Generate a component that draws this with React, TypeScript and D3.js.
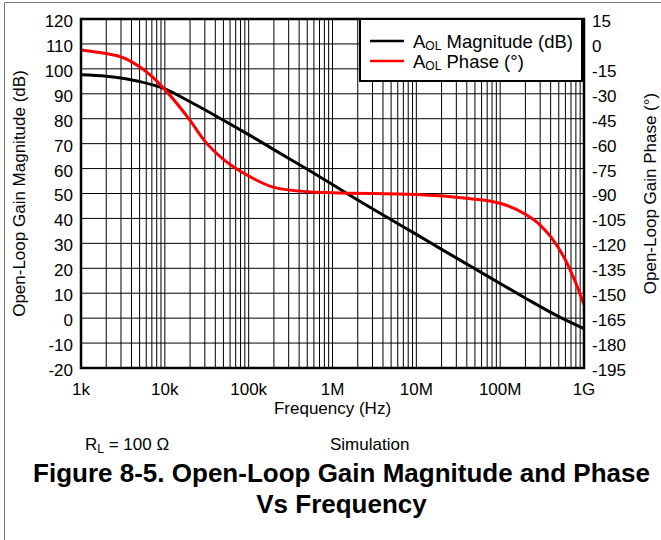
import React from "react";
import * as d3 from "d3";

// magnitude curve (dB)
const magFreq = [1e3, 2e3, 5e3, 1e4, 2e4, 5e4, 1e5, 2e5, 5e5, 1e6, 2e6, 5e6, 1e7, 2e7, 5e7, 1e8, 2e8, 5e8, 1e9];
const magDb = [97.6, 97.0, 94.9, 92.0, 86.8, 79.4, 73.6, 67.6, 59.7, 53.6, 47.4, 39.5, 33.6, 27.6, 19.8, 13.9, 8.0, 0.6, -4.2];

// phase curve (deg)
const phaseFreq = [1e3, 2e3, 3e3, 5e3, 7e3, 1e4, 2e4, 3e4, 5e4, 1e5, 2e5, 5e5, 1e6, 1e7, 4e7, 1e8, 2e8, 3e8, 4e8, 6e8, 8e8, 1e9];
const phaseDeg = [-3.6, -5.8, -7.8, -13.7, -19.5, -27.5, -46, -58.5, -69.5, -79.5, -86.3, -88.9, -89.5, -90.6, -92.9, -95.9, -102.5, -109, -116, -130, -144, -157];

const xTicks = [1e3, 1e4, 1e5, 1e6, 1e7, 1e8, 1e9];
const xTickLabels = ["1k", "10k", "100k", "1M", "10M", "100M", "1G"];
const magTicks = d3.range(-20, 121, 10);
const phaseTicks = d3.range(-195, 16, 15);

const W = 661;
const H = 540;
const plot = { left: 81, top: 19, right: 584, bottom: 368 };
const font = "Arial, 'Liberation Sans', Helvetica, sans-serif";

export default function App() {
  const x = d3.scaleLog().domain([1e3, 1e9]).range([plot.left, plot.right]);
  const yMag = d3.scaleLinear().domain([-20, 120]).range([plot.bottom, plot.top]);
  const yPh = d3.scaleLinear().domain([-195, 15]).range([plot.bottom, plot.top]);

  // minor grid: 1..9 per decade
  const vGrid: number[] = [];
  for (let e = 3; e < 9; e++) {
    for (let m = 1; m < 10; m++) vGrid.push(m * Math.pow(10, e));
  }
  vGrid.push(1e9);

  const magLine = d3
    .line<number>()
    .x((_, i) => x(magFreq[i]))
    .y((d) => yMag(d))
    .curve(d3.curveMonotoneX);
  const phLine = d3
    .line<number>()
    .x((_, i) => x(phaseFreq[i]))
    .y((d) => yPh(d))
    .curve(d3.curveMonotoneX);

  const midX = (plot.left + plot.right) / 2;
  const midY = (plot.top + plot.bottom) / 2;

  return (
    <svg
      width={W}
      height={H}
      style={{ position: "absolute", left: 0, top: 0, background: "#fff" }}
      fontFamily={font}
    >
      <rect x={0} y={0} width={W} height={H} fill="#fff" />
      {/* outer frame */}
      <line x1={4.5} y1={2.5} x2={W} y2={2.5} stroke="#777" strokeWidth={1} />
      <line x1={4.5} y1={2.5} x2={4.5} y2={H} stroke="#777" strokeWidth={1} />

      {/* grid */}
      <g stroke="#000" strokeWidth={1}>
        {vGrid.map((f, i) => (
          <line key={"v" + i} x1={x(f)} x2={x(f)} y1={plot.top} y2={plot.bottom} />
        ))}
        {magTicks.map((t) => (
          <line key={"h" + t} x1={plot.left} x2={plot.right} y1={yMag(t)} y2={yMag(t)} />
        ))}
      </g>

      {/* curves */}
      <path d={magLine(magDb) || ""} fill="none" stroke="#000" strokeWidth={3} />
      <path d={phLine(phaseDeg) || ""} fill="none" stroke="#ff0000" strokeWidth={3} />

      {/* plot border */}
      <rect
        x={plot.left}
        y={plot.top}
        width={plot.right - plot.left}
        height={plot.bottom - plot.top}
        fill="none"
        stroke="#000"
        strokeWidth={2.5}
      />

      {/* legend */}
      <rect x={360} y={plot.top} width={222} height={62} fill="#fff" stroke="#000" strokeWidth={2} />
      <line x1={370} x2={404} y1={41} y2={41} stroke="#000" strokeWidth={2.5} />
      <line x1={370} x2={404} y1={61} y2={61} stroke="#ff0000" strokeWidth={2.5} />
      <text x={413} y={48} fontSize={18.5}>
        A<tspan fontSize={12} dy={2}>OL</tspan>
        <tspan dy={-2}> Magnitude (dB)</tspan>
      </text>
      <text x={413} y={68} fontSize={18.5}>
        A<tspan fontSize={12} dy={2}>OL</tspan>
        <tspan dy={-2}> Phase (°)</tspan>
      </text>

      {/* left axis labels */}
      <g fontSize={17} textAnchor="end">
        {magTicks.map((t) => (
          <text key={"ml" + t} x={73} y={yMag(t)} dy="0.47em">
            {t}
          </text>
        ))}
      </g>
      {/* right axis labels */}
      <g fontSize={17} textAnchor="start">
        {phaseTicks.map((t) => (
          <text key={"pl" + t} x={592} y={yPh(t)} dy="0.47em">
            {t}
          </text>
        ))}
      </g>
      {/* bottom axis labels */}
      <g fontSize={17} textAnchor="middle">
        {xTicks.map((t, i) => (
          <text key={"xl" + t} x={x(t)} y={395}>
            {xTickLabels[i]}
          </text>
        ))}
      </g>
      <text x={midX} y={414} fontSize={17} textAnchor="middle">
        Frequency (Hz)
      </text>
      <text transform={`translate(25,${midY}) rotate(-90)`} fontSize={17} textAnchor="middle">
        Open-Loop Gain Magnitude (dB)
      </text>
      <text transform={`translate(656,${midY}) rotate(-90)`} fontSize={17} textAnchor="middle">
        Open-Loop Gain Phase (°)
      </text>

      {/* notes */}
      <text x={85} y={450} fontSize={17}>
        R<tspan fontSize={12} dy={3}>L</tspan>
        <tspan dy={-3}> = 100 Ω</tspan>
      </text>
      <text x={330} y={450} fontSize={17}>
        Simulation
      </text>

      {/* caption */}
      <text x={W / 2 + 11} y={482} fontSize={26} fontWeight="bold" textAnchor="middle">
        Figure 8-5. Open-Loop Gain Magnitude and Phase
      </text>
      <text x={W / 2 + 11} y={513} fontSize={26} fontWeight="bold" textAnchor="middle">
        Vs Frequency
      </text>
    </svg>
  );
}
